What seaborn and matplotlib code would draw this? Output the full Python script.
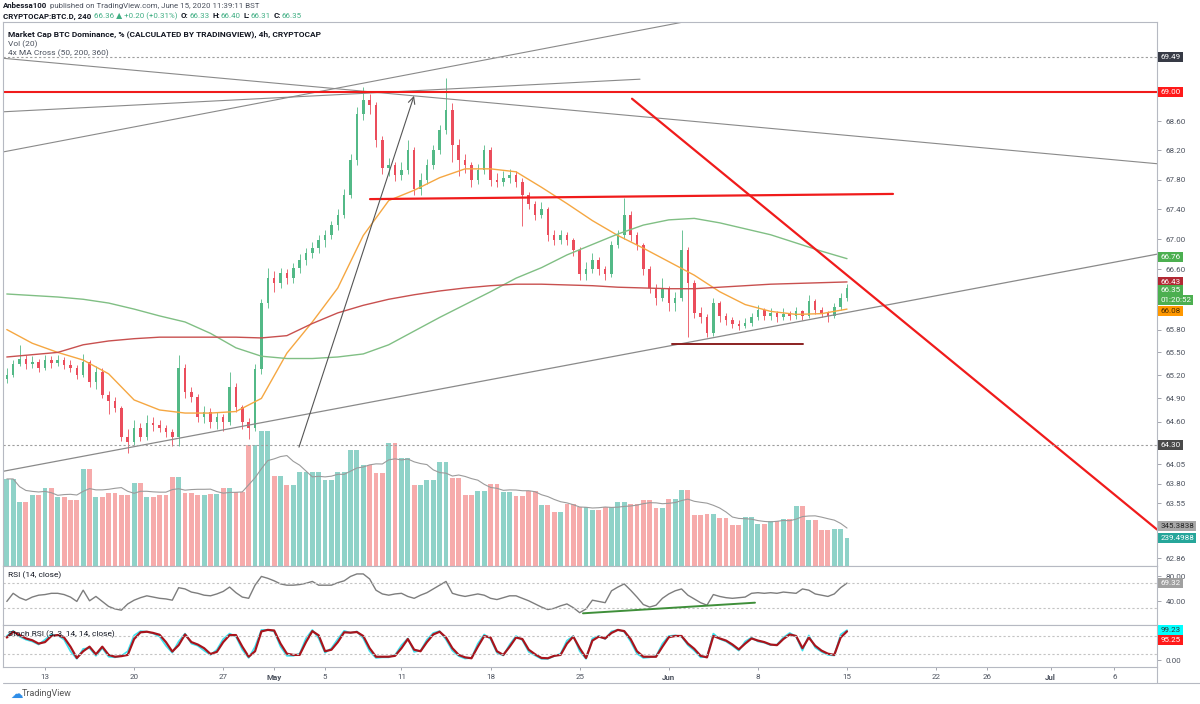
import numpy as np
import pandas as pd
import matplotlib
matplotlib.use("Agg")
import matplotlib.pyplot as plt
import matplotlib.dates as mdates
from matplotlib.ticker import FixedLocator, FixedFormatter, NullLocator
from matplotlib.lines import Line2D
import seaborn as sns

# ---- data (12h candles from 2020-04-10) ----
first_open = 65.15
close = [65.21, 65.35, 65.42, 65.35, 65.37, 65.30, 65.40, 65.36, 65.40, 65.34,
         65.30, 65.21, 65.38, 65.11, 65.25, 64.95, 64.87, 64.78, 64.40, 64.33,
         64.52, 64.40, 64.58, 64.55, 64.52, 64.46, 64.40, 65.30, 64.98, 64.92,
         64.66, 64.73, 64.60, 64.66, 64.60, 65.05, 64.79, 64.60, 64.52, 65.28,
         66.15, 66.48, 66.42, 66.55, 66.48, 66.62, 66.72, 66.81, 66.88, 66.99,
         67.06, 67.19, 67.33, 67.60, 68.07, 68.70, 68.89, 68.82, 68.34, 67.96,
         68.00, 67.87, 67.94, 68.21, 67.67, 67.80, 68.00, 68.21, 68.48, 68.76,
         68.28, 68.07, 68.00, 67.80, 67.94, 68.21, 67.80, 67.77, 67.83, 67.87,
         67.77, 67.60, 67.47, 67.33, 67.40, 67.06, 66.99, 67.06, 66.99, 66.86,
         66.53, 66.60, 66.72, 66.60, 66.53, 66.92, 67.06, 67.33, 67.06, 66.92,
         66.60, 66.35, 66.22, 66.35, 66.15, 66.22, 66.86, 66.42, 66.02, 65.96,
         65.76, 66.15, 65.98, 65.93, 65.87, 65.85, 65.89, 65.96, 66.06, 65.98,
         66.02, 65.96, 66.01, 65.98, 66.04, 65.98, 66.18, 66.06, 66.02, 65.98,
         66.10, 66.22, 66.35]
high = [65.30, 65.40, 65.60, 65.47, 65.45, 65.42, 65.46, 65.45, 65.47, 65.44,
        65.40, 65.34, 65.48, 65.40, 65.32, 65.30, 65.00, 64.92, 64.80, 64.50,
        64.62, 64.58, 64.68, 64.66, 64.62, 64.56, 64.50, 65.47, 65.35, 65.05,
        64.96, 64.80, 64.78, 64.72, 64.70, 65.25, 65.10, 64.82, 64.65, 65.35,
        66.20, 66.62, 66.58, 66.62, 66.60, 66.68, 66.80, 66.88, 66.96, 67.06,
        67.12, 67.25, 67.40, 67.68, 68.15, 68.80, 69.07, 68.98, 68.86, 68.40,
        68.10, 68.05, 68.05, 68.35, 68.25, 67.90, 68.08, 68.28, 68.55, 69.20,
        68.85, 68.36, 68.15, 68.05, 68.02, 68.28, 68.25, 67.90, 67.92, 67.95,
        67.92, 67.82, 67.64, 67.52, 67.50, 67.44, 67.12, 67.12, 67.10, 67.02,
        66.90, 66.70, 66.82, 66.76, 66.64, 66.98, 67.12, 67.55, 67.38, 67.10,
        66.95, 66.64, 66.40, 66.48, 66.38, 66.30, 67.12, 66.90, 66.45, 66.10,
        66.00, 66.22, 66.18, 66.02, 65.96, 65.92, 65.95, 66.02, 66.12, 66.08,
        66.08, 66.05, 66.08, 66.05, 66.10, 66.06, 66.25, 66.20, 66.10, 66.05,
        66.15, 66.28, 66.40]
low = [65.10, 65.18, 65.32, 65.28, 65.30, 65.25, 65.27, 65.30, 65.32, 65.28,
       65.24, 65.15, 65.18, 65.05, 65.02, 64.90, 64.70, 64.72, 64.35, 64.20,
       64.30, 64.35, 64.36, 64.48, 64.46, 64.40, 64.28, 64.28, 64.90, 64.85,
       64.60, 64.58, 64.52, 64.50, 64.48, 64.56, 64.72, 64.50, 64.38, 64.48,
       65.22, 66.08, 66.30, 66.35, 66.40, 66.42, 66.55, 66.65, 66.75, 66.82,
       66.90, 67.00, 67.12, 67.28, 67.55, 68.00, 68.62, 68.70, 68.25, 67.88,
       67.85, 67.78, 67.80, 67.88, 67.60, 67.60, 67.74, 67.95, 68.15, 68.42,
       68.05, 67.85, 67.90, 67.70, 67.74, 67.88, 67.72, 67.70, 67.72, 67.76,
       67.70, 67.18, 67.40, 67.26, 67.28, 66.98, 66.92, 66.94, 66.92, 66.78,
       66.45, 66.46, 66.55, 66.52, 66.45, 66.50, 66.88, 67.00, 66.98, 66.85,
       66.52, 66.28, 66.12, 66.18, 66.05, 66.05, 66.18, 65.70, 65.95, 65.88,
       65.70, 65.72, 65.90, 65.86, 65.82, 65.80, 65.82, 65.85, 65.92, 65.92,
       65.93, 65.90, 65.92, 65.92, 65.94, 65.92, 65.95, 66.00, 65.96, 65.90,
       65.95, 66.06, 66.18]

# daily volume, Apr 10 .. Jun 15
vol_daily = [757, 557, 617, 678, 600, 574, 843, 600, 635, 617,
             722, 600, 617, 774, 635, 617, 626, 678, 643, 1052,
             1174, 783, 704, 817, 817, 748, 817, 1009, 878, 809,
             1070, 939, 704, 748, 904, 765, 617, 652, 713, 643,
             609, 652, 530, 470, 539, 513, 487, 513, 557, 539,
             574, 504, 583, 661, 443, 452, 417, 357, 426, 365,
             391, 409, 522, 400, 313, 322, 239.5]

# moving averages, every 2 days from Apr 10
ma50 = [65.80, 65.62, 65.50, 65.40, 65.22, 64.88, 64.75, 64.71, 64.71, 64.73,
        64.90, 65.49, 65.90, 66.35, 67.05, 67.52, 67.66, 67.83, 67.95, 67.95,
        67.91, 67.70, 67.48, 67.25, 67.05, 66.88, 66.70, 66.52, 66.30, 66.13,
        66.04, 66.00, 66.01, 66.07]
ma200 = [66.27, 66.25, 66.23, 66.20, 66.15, 66.07, 65.98, 65.90, 65.75, 65.56,
         65.45, 65.42, 65.42, 65.44, 65.48, 65.60, 65.78, 65.96, 66.13, 66.30,
         66.48, 66.62, 66.79, 66.93, 67.07, 67.19, 67.26, 67.28, 67.22, 67.14,
         67.06, 66.95, 66.84, 66.74]
ma360 = [65.44, 65.47, 65.50, 65.60, 65.65, 65.68, 65.70, 65.70, 65.70, 65.70,
         65.69, 65.72, 65.88, 66.02, 66.12, 66.20, 66.26, 66.31, 66.35, 66.38,
         66.40, 66.40, 66.39, 66.38, 66.36, 66.35, 66.34, 66.34, 66.36, 66.38,
         66.40, 66.41, 66.42, 66.43]

rsi = [40, 53, 46, 42, 47, 50, 51, 53, 53, 51,
       47, 40, 58, 41, 48, 40, 32, 28, 26, 36,
       42, 46, 49, 47, 45, 44, 42, 62, 60, 55,
       53, 50, 49, 52, 56, 63, 54, 47, 45, 66,
       80, 77, 73, 68, 66, 66, 67, 69, 72, 66,
       66, 66, 70, 73, 80, 84, 84, 76, 58, 52,
       50, 52, 53, 48, 45, 50, 54, 60, 66, 72,
       53, 50, 48, 50, 52, 50, 45, 43, 46, 49,
       49, 45, 41, 36, 31, 27, 29, 33, 36, 30,
       22, 28, 42, 40, 38, 57, 63, 68, 58, 47,
       35, 31, 34, 45, 52, 57, 60, 50, 44, 38,
       34, 51, 48, 46, 45, 46, 47, 53, 54, 53,
       54, 53, 55, 54, 53, 60, 58, 52, 50, 48,
       52, 62, 69.32]

stoch_k = [80, 97, 78, 68, 62, 52, 68, 85, 82, 68,
           30, 5, 38, 40, 15, 40, 12, 10, 15, 30,
           82, 96, 94, 88, 78, 48, 25, 62, 88, 55,
           48, 32, 18, 35, 70, 88, 78, 35, 8, 45,
           100, 100, 95, 45, 15, 15, 22, 72, 100, 72,
           25, 40, 70, 97, 90, 95, 72, 30, 8, 10,
           10, 18, 50, 72, 28, 32, 68, 90, 96, 68,
           32, 14, 6, 8, 55, 85, 70, 25, 16, 52,
           80, 66, 28, 16, 5, 5, 14, 22, 65, 80,
           30, 5, 72, 80, 70, 95, 100, 94, 62, 22,
           8, 10, 14, 55, 80, 82, 78, 50, 32, 10,
           12, 88, 70, 62, 48, 32, 62, 75, 62, 58,
           50, 52, 75, 90, 78, 32, 82, 42, 28, 18,
           16, 85, 99.23]
stoch_d = [75, 94, 83, 72, 66, 55, 60, 80, 83, 75,
           45, 8, 30, 45, 20, 45, 18, 12, 14, 18,
           70, 92, 94, 90, 84, 60, 29, 50, 85, 60,
           52, 40, 21, 28, 60, 83, 83, 45, 12, 30,
           95, 100, 98, 55, 22, 18, 18, 60, 96, 82,
           30, 35, 60, 92, 91, 93, 80, 40, 12, 12,
           12, 15, 40, 70, 35, 30, 60, 85, 94, 75,
           40, 18, 10, 7, 45, 80, 75, 30, 18, 45,
           75, 70, 35, 20, 8, 7, 15, 18, 55, 78,
           40, 8, 65, 78, 72, 90, 100, 96, 70, 30,
           12, 12, 12, 45, 76, 80, 80, 55, 38, 15,
           10, 80, 72, 65, 52, 36, 55, 72, 65, 60,
           52, 50, 70, 85, 80, 40, 75, 48, 32, 22,
           18, 75, 95.25]

price_ticks = [68.60, 68.20, 67.80, 67.40, 67.00, 66.60, 65.80, 65.50, 65.20,
               64.90, 64.60, 64.05, 63.80, 63.55, 62.86]
x_tick_dates = ["2020-04-13", "2020-04-20", "2020-04-27", "2020-05-01", "2020-05-05",
                "2020-05-11", "2020-05-18", "2020-05-25", "2020-06-01", "2020-06-08",
                "2020-06-15", "2020-06-22", "2020-06-26", "2020-07-01", "2020-07-06"]
x_tick_labels = ["13", "20", "27", "May", "5", "11", "18", "25", "Jun", "8",
                 "15", "22", "26", "Jul", "6"]

# user drawings: (start, price, end, price, colour, width)
drawings = [
    ("2020-04-09 16:50", 69.47, "2020-07-09 08:24", 68.02, "#8a8a8a", 0.8),
    ("2020-04-09 16:50", 68.18, "2020-06-02 06:30", 69.98, "#8a8a8a", 0.8),
    ("2020-04-09 16:50", 68.73, "2020-05-29 17:45", 69.18, "#8a8a8a", 0.8),
    ("2020-04-09 16:50", 63.96, "2020-07-09 08:24", 66.80, "#8a8a8a", 0.9),
    ("2020-04-09 16:50", 69.00, "2020-07-09 08:24", 69.00, "#f01b1b", 1.5),
    ("2020-05-08 12:45", 67.54, "2020-06-18 14:40", 67.61, "#f01b1b", 1.6),
    ("2020-05-29 02:40", 68.91, "2020-07-09 08:24", 63.22, "#f01b1b", 1.6),
    ("2020-06-01 06:00", 65.61, "2020-06-11 13:00", 65.61, "#8b2020", 1.4),
]

# ---- derived series ----
candle_dates = pd.date_range("2020-04-10", periods=len(close), freq="12h")
ma_dates = pd.date_range("2020-04-10", periods=len(ma50), freq="2D")
closes = np.array(close)
opens = np.array([first_open] + close[:-1])
up = closes >= opens
candle_col = np.where(up, "#53b987", "#eb4d5c")
vol = np.repeat(vol_daily, 2)[:len(close)]
vol_col = np.where(up, "#8fd2c8", "#f6abab")
vol_ma = pd.Series(vol).rolling(7, min_periods=1).mean().values

sns.set_theme(style="white")
plt.rcParams["font.family"] = ["Roboto", "DejaVu Sans"]

W, H = 1200, 704
TXT = "#4c525e"
fig = plt.figure(figsize=(12, 7.04), dpi=100)


def rect(x0, y0, x1, y1):
    return [x0 / W, 1 - y1 / H, (x1 - x0) / W, (y1 - y0) / H]


ax_vol = fig.add_axes(rect(3, 22, 1157, 566))
ax = fig.add_axes(rect(3, 22, 1157, 566), sharex=ax_vol)
ax_rsi = fig.add_axes(rect(3, 566, 1157, 625), sharex=ax_vol)
ax_st = fig.add_axes(rect(3, 625, 1157, 667), sharex=ax_vol)
ax.patch.set_alpha(0)

# volume
ax_vol.bar(candle_dates, vol, width=0.38, color=vol_col, linewidth=0)
sns.lineplot(x=candle_dates, y=vol_ma, ax=ax_vol, color="#9b9b9b", linewidth=0.8, legend=False)
ax_vol.set_ylim(0, 544 / 0.115)
ax_vol.axis("off")

# price panel
ax.set_yscale("log")
ax.vlines(candle_dates, low, high, colors=candle_col, linewidth=0.6)
ax.bar(candle_dates, np.maximum(np.abs(closes - opens), 0.01), bottom=np.minimum(opens, closes),
       width=0.2, color=candle_col, linewidth=0)
sns.lineplot(x=ma_dates, y=ma50, ax=ax, color="#f5a742", linewidth=1, legend=False)
sns.lineplot(x=ma_dates, y=ma200, ax=ax, color="#80bf84", linewidth=1, legend=False)
sns.lineplot(x=ma_dates, y=ma360, ax=ax, color="#c8504f", linewidth=1, legend=False)

for t0, p0, t1, p1, c, lw in drawings:
    ax.plot(mdates.date2num([pd.Timestamp(t0), pd.Timestamp(t1)]), [p0, p1], color=c, lw=lw)
for lvl in (69.49, 64.30):
    ax.axhline(lvl, color="#9e9e9e", lw=0.8, ls=(0, (2, 2)))
ax.annotate("", xy=(mdates.date2num(pd.Timestamp("2020-05-11 23:45")), 68.95),
            xytext=(mdates.date2num(pd.Timestamp("2020-05-02 22:50")), 64.27),
            arrowprops=dict(arrowstyle="->", color="#555555", lw=0.8, shrinkA=0, shrinkB=0))

ax.set_ylim(62.76, 69.976)
ax.yaxis.set_major_locator(FixedLocator(price_ticks))
ax.yaxis.set_major_formatter(FixedFormatter([f"{v:.2f}" for v in price_ticks]))
ax.yaxis.set_minor_locator(NullLocator())

# RSI
sns.lineplot(x=candle_dates, y=rsi, ax=ax_rsi, color="#7d7d7d", linewidth=1, legend=False)
for lvl in (70, 30):
    ax_rsi.axhline(lvl, color="#c4c4c4", lw=0.8, ls=(0, (2, 2)))
ax_rsi.plot(mdates.date2num([pd.Timestamp("2020-05-25 06:15"), pd.Timestamp("2020-06-07 18:30")]),
            [21, 38], color="#3f8f3a", lw=1.4)
ax_rsi.set_ylim(2.3, 96.7)
ax_rsi.set_yticks([80, 40])
ax_rsi.set_yticklabels(["80.00", "40.00"])

# Stoch RSI
sns.lineplot(x=candle_dates, y=stoch_k, ax=ax_st, color="#3be3f0", linewidth=1.2, legend=False)
sns.lineplot(x=candle_dates, y=stoch_d, ax=ax_st, color="#a8141c", linewidth=1.6, legend=False)
for lvl in (80, 20):
    ax_st.axhline(lvl, color="#c4c4c4", lw=0.8, ls=(0, (2, 2)))
ax_st.set_ylim(-21.6, 116)
ax_st.set_yticks([0])
ax_st.set_yticklabels(["0.00"])

# shared x
ax_st.set_xlim(mdates.date2num(pd.Timestamp("2020-04-09 16:50")),
               mdates.date2num(pd.Timestamp("2020-07-09 08:24")))
ax_st.set_xticks(mdates.date2num(pd.to_datetime(x_tick_dates)))
ax_st.set_xticklabels(x_tick_labels)
for lab in ax_st.get_xticklabels():
    if lab.get_text() in ("May", "Jun", "Jul"):
        lab.set_fontweight("bold")

for a in (ax, ax_rsi, ax_st):
    a.set_xlabel("")
    a.set_ylabel("")
    a.yaxis.tick_right()
    a.tick_params(axis="y", which="major", right=True, left=False, length=3, width=0.6,
                  color="#9598a1", labelsize=5.8, labelcolor=TXT, pad=3)
    a.tick_params(axis="x", bottom=False, labelbottom=False)
    for s in a.spines.values():
        s.set_color("#b6b9c2")
        s.set_linewidth(0.8)
ax_st.tick_params(axis="x", bottom=True, labelbottom=True, length=2, width=0.6,
                  color="#9598a1", labelsize=5.8, labelcolor=TXT, pad=3)


def tag(axis, value, text, fc, tc="white", dy=0):
    axis.annotate(text, xy=(1, value), xycoords=("axes fraction", "data"), xytext=(2.5, dy),
                  textcoords="offset points", ha="left", va="center", fontsize=5.8, color=tc,
                  bbox=dict(boxstyle="square,pad=0.25", fc=fc, ec="none"), annotation_clip=False)


tag(ax, 69.49, "69.49", "#363a45")
tag(ax, 69.00, "69.00", "#ff1a1a")
tag(ax, 66.76, "66.76", "#4caf50")
tag(ax, 66.43, "66.43", "#b22833")
tag(ax, 66.35, "66.35", "#4caf50", dy=-1.5)
tag(ax, 66.35, "01:20:52", "#4caf50", dy=-8.5)
tag(ax, 66.08, "66.08", "#ff9800", tc="#4a2c00", dy=-2)
tag(ax, 64.30, "64.30", "#4a4a4a")
tag(ax_vol, 345.38, "345.3838", "#a8a8a8", tc="#222222")
tag(ax_vol, 239.50, "239.4988", "#26a69a")
tag(ax_rsi, 69.32, "69.32", "#a0a0a0")
tag(ax_st, 99.23, "99.23", "#00ffff", tc="#333333")
tag(ax_st, 95.25, "95.25", "#ff1a1a", dy=-6.5)

# panel captions
ax.text(5 / 1154, 1 - 12 / 544, "Market Cap BTC Dominance, % (CALCULATED BY TRADINGVIEW), 4h, CRYPTOCAP",
        transform=ax.transAxes, fontsize=6, fontweight="bold", color="#131722", va="center")
ax.text(5 / 1154, 1 - 22 / 544, "Vol (20)", transform=ax.transAxes, fontsize=6, color=TXT, va="center")
ax.text(5 / 1154, 1 - 31 / 544, "4x MA Cross (50, 200, 360)", transform=ax.transAxes, fontsize=6,
        color=TXT, va="center")
ax_rsi.text(5 / 1154, 1 - 9 / 59, "RSI (14, close)", transform=ax_rsi.transAxes, fontsize=6,
            color="#131722", va="center")
ax_st.text(5 / 1154, 1 - 9 / 42, "Stoch RSI (3, 3, 14, 14, close)", transform=ax_st.transAxes,
           fontsize=6, color="#131722", va="center")

# header, pieces placed one after another
renderer = fig.canvas.get_renderer()
GREEN = "#3fae83"
DARK = "#131722"


def chain(y, parts, x=3, size=5.7):
    for s, color, weight, gap in parts:
        t = fig.text(x / W, 1 - y / H, s, va="center", ha="left", fontsize=size,
                     color=color, fontweight=weight)
        x += t.get_window_extent(renderer=renderer).width + gap


chain(6, [("Anbessa100", DARK, "bold", 2.5),
          ("published on TradingView.com, June 15, 2020 11:39:11 BST", TXT, "normal", 0)])
chain(16, [("CRYPTOCAP:BTC.D, 240", DARK, "bold", 3),
           ("66.36 ▲ +0.20 (+0.31%)", GREEN, "normal", 3),
           ("O:", DARK, "bold", 0.5), ("66.33", GREEN, "normal", 3),
           ("H:", DARK, "bold", 0.5), ("66.40", GREEN, "normal", 3),
           ("L:", DARK, "bold", 0.5), ("66.31", GREEN, "normal", 3),
           ("C:", DARK, "bold", 0.5), ("66.35", GREEN, "normal", 0)])

fig.text(10 / W, 1 - 694 / H, "☁", va="center", ha="left", fontsize=9, color="#2f8ee8")
fig.text(22 / W, 1 - 694 / H, "TradingView", va="center", ha="left", fontsize=6.5, color="#555555")

fig.add_artist(Line2D([3 / W, 1], [1 - 683 / H] * 2, color="#b6b9c2", lw=0.8))
fig.add_artist(Line2D([1157 / W] * 2, [1 - 683 / H, 1 - 667 / H], color="#b6b9c2", lw=0.8))

fig.savefig("out.png", dpi=100)
